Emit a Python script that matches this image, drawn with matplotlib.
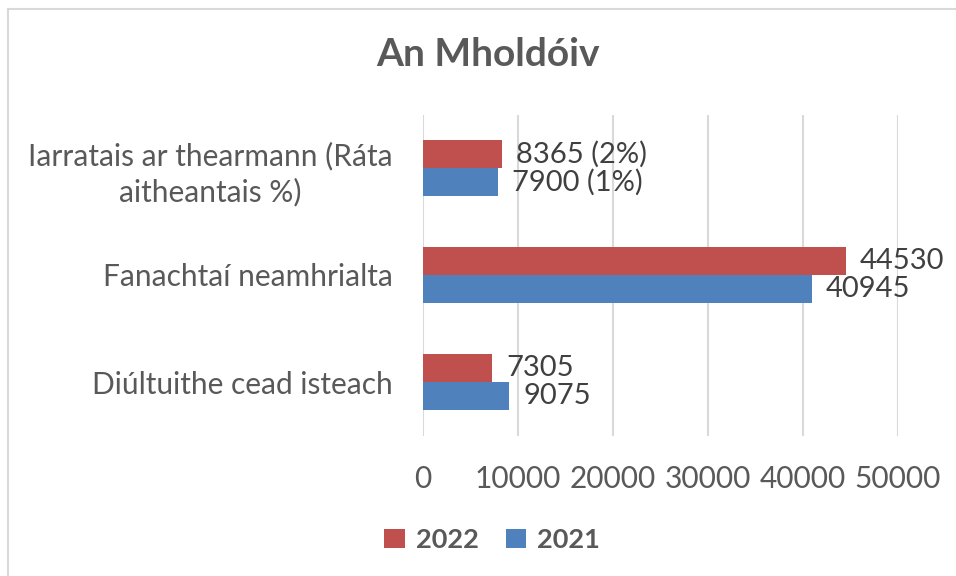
import matplotlib
matplotlib.use("Agg")
import matplotlib.pyplot as plt
from matplotlib.patches import Patch
from matplotlib.lines import Line2D
import numpy as np

plt.rcParams['font.family'] = ['Lato', 'DejaVu Sans']

title = "An Mholdóiv"
categories = ["Iarratais ar thearmann (Ráta\naitheantais %)",
              "Fanachtaí neamhrialta",
              "Diúltuithe cead isteach"]
series_names = ["2022", "2021"]
values_2022 = [8365, 44530, 7305]
values_2021 = [7900, 40945, 9075]
labels_2022 = ["8365 (2%)", "44530", "7305"]
labels_2021 = ["7900 (1%)", "40945", "9075"]
xticks = [0, 10000, 20000, 30000, 40000, 50000]

red = "#C0504D"
blue = "#4F81BD"
txt = "#595959"

W, H = 956, 576
fig = plt.figure(figsize=(W/100, H/100), dpi=100)
ax = fig.add_axes([423/W, 1-435.5/H, (898-423)/W, (435.5-114.5)/H])

y = np.arange(len(categories))
bh = 0.262
ax.barh(y - bh/2, values_2022, height=bh, color=red, label=series_names[0], zorder=3)
ax.barh(y + bh/2, values_2021, height=bh, color=blue, label=series_names[1], zorder=3)

for yi, v, l in zip(y, values_2022, labels_2022):
    ax.annotate(l, (v, yi - bh/2), xytext=(10, 0), textcoords='offset points',
                ha='left', va='center', fontsize=21, color="#404040")
for yi, v, l in zip(y, values_2021, labels_2021):
    ax.annotate(l, (v, yi + bh/2), xytext=(10, 0), textcoords='offset points',
                ha='left', va='center', fontsize=21, color="#404040")

ax.set_xlim(0, 50000)
ax.set_ylim(len(categories) - 0.5, -0.5)
ax.set_xticks(xticks)
ax.set_xticklabels([str(t) for t in xticks])
ax.set_yticks(y)
ax.set_yticklabels(categories, multialignment='center', linespacing=1.3)
ax.tick_params(axis='x', length=0, pad=21.5, labelsize=21.5, labelcolor=txt)
ax.tick_params(axis='y', length=0, pad=22, labelsize=21.5, labelcolor=txt)
ax.grid(axis='x', color="#D9D9D9", linewidth=1.5, zorder=0)
for s in ax.spines.values():
    s.set_visible(False)

fig.text(488/W, 1-55/H, title, ha='center', va='center', fontsize=28,
         fontweight='bold', color=txt)

handles = [Patch(facecolor=red, edgecolor='none'), Patch(facecolor=blue, edgecolor='none')]
leg = fig.legend(handles, series_names, loc='center', bbox_to_anchor=(492/W, 1-540/H),
                 ncol=2, frameon=False, handlelength=0.75, handleheight=0.75,
                 handletextpad=0.4, columnspacing=1.0,
                 prop={'size': 19.5, 'weight': 'bold'})
for t in leg.get_texts():
    t.set_color(txt)

fig.add_artist(Line2D([8/W, 8/W], [0, 1-9/H], color="#D9D9D9", linewidth=1.5))
fig.add_artist(Line2D([8/W, 1], [1-9/H, 1-9/H], color="#D9D9D9", linewidth=1.5))

fig.savefig("out.png", dpi=100)
